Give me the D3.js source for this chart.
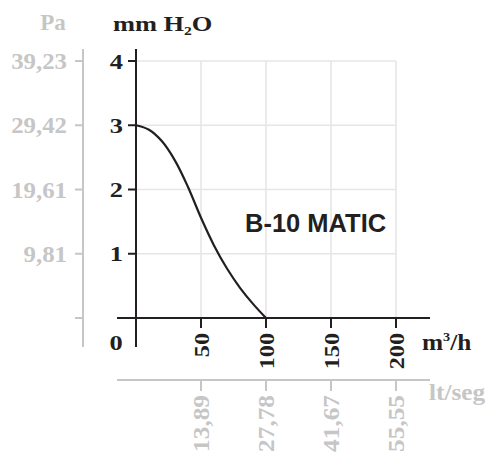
<!DOCTYPE html>
<html><head><meta charset="utf-8">
<script src="https://cdn.jsdelivr.net/npm/d3@7"></script>
<style>body{margin:0;background:#fff}svg{display:block}</style>
</head><body>
<svg id="c" width="489" height="457"></svg>
<script>
const flow = [0,10,20,30,40,50,60,70,80,90,100];
const pressure = [3,2.93,2.75,2.45,2.04,1.56,1.13,0.77,0.47,0.22,0];
const xTicks = [50,100,150,200];
const yTicks = [1,2,3,4];
const paTicks = [0,9.81,19.61,29.42,39.23];
const paLabels = ["","9,81","19,61","29,42","39,23"];
const lsTicks = [13.89,27.78,41.67,55.55];
const lsLabels = ["13,89","27,78","41,67","55,55"];
const modelName = "B-10 MATIC";

const BLACK="#231f20", GRAY="#c6c6c6", GRID="#e6e6e6";
const serif = "'Liberation Serif','Times New Roman',serif";
const svg = d3.select("#c");
const x = d3.scaleLinear().domain([0,200]).range([136,396]);
const y = d3.scaleLinear().domain([0,4]).range([318,61]);
const xl = d3.scaleLinear().domain([0,200/3.6]).range([136,396]);
const yp = d3.scaleLinear().domain([0,39.23]).range([318,61]);

function sText(sel, px, py, opt){
  return sel.attr("transform",(d,i)=>`translate(${px(d,i)},${py(d,i)}) rotate(${opt.rot||0}) scale(${opt.sx||1},1)`)
    .attr("fill",opt.fill||BLACK).attr("font-family",opt.family||serif).attr("font-weight","bold")
    .attr("font-size",opt.size||22).attr("text-anchor",opt.anchor||"start").attr("dy",opt.dy||null);
}

// grid
const g = svg.append("g");
g.selectAll(".h").data(yTicks).join("line").attr("x1",x(0)).attr("x2",x(200))
  .attr("y1",d=>y(d)).attr("y2",d=>y(d)).attr("stroke",GRID).attr("stroke-width",1.6);
g.selectAll(".v").data(xTicks).join("line").attr("x1",d=>x(d)).attr("x2",d=>x(d))
  .attr("y1",y(4)).attr("y2",y(0)).attr("stroke",GRID).attr("stroke-width",1.6);

// Pa axis (gray)
const pa = svg.append("g");
pa.append("line").attr("x1",83).attr("x2",83).attr("y1",49).attr("y2",347).attr("stroke",GRAY).attr("stroke-width",2);
pa.selectAll("line.t").data(paTicks).join("line").attr("class","t").attr("x1",75).attr("x2",83)
  .attr("y1",d=>yp(d)).attr("y2",d=>yp(d)).attr("stroke",GRAY).attr("stroke-width",2);
sText(pa.selectAll("text").data(paTicks).join("text").text((d,i)=>paLabels[i]),
  ()=>67, d=>yp(d), {fill:GRAY,size:23,sx:1.08,anchor:"end",dy:"0.35em"});
sText(svg.append("text").datum(0).text("Pa"), ()=>53, ()=>30, {fill:GRAY,size:23,anchor:"middle"});

// mm H2O title
const t = sText(svg.append("text").datum(0), ()=>113, ()=>31, {size:22,sx:1.2});
t.append("tspan").text("mm H");
t.append("tspan").attr("font-size",13).attr("dy",4).text("2");
t.append("tspan").attr("dy",-4).text("O");

// main axes
svg.append("line").attr("x1",x(0)).attr("x2",x(0)).attr("y1",49).attr("y2",347).attr("stroke",BLACK).attr("stroke-width",2);
svg.append("line").attr("x1",117).attr("x2",430).attr("y1",y(0)).attr("y2",y(0)).attr("stroke",BLACK).attr("stroke-width",2);
svg.selectAll(".yt").data(yTicks).join("line").attr("x1",x(0)-8).attr("x2",x(0))
  .attr("y1",d=>y(d)).attr("y2",d=>y(d)).attr("stroke",BLACK).attr("stroke-width",2);
sText(svg.selectAll(".ytl").data(yTicks).join("text").text(d=>d),
  ()=>123, d=>y(d), {size:22,sx:1.2,anchor:"end",dy:"0.35em"});
svg.selectAll(".xt").data(xTicks).join("line").attr("x1",d=>x(d)).attr("x2",d=>x(d))
  .attr("y1",y(0)).attr("y2",y(0)+10).attr("stroke",BLACK).attr("stroke-width",2);
sText(svg.selectAll(".xtl").data(xTicks).join("text").text(d=>d),
  d=>x(d), ()=>333, {size:22,sx:1.1,rot:-90,anchor:"end",dy:"0.35em"});
sText(svg.append("text").datum(0).text("0"), ()=>116, ()=>350, {size:22,sx:1.2,anchor:"middle"});
const u = sText(svg.append("text").datum(0), ()=>422, ()=>350, {size:23,sx:1.1});
u.append("tspan").text("m");
u.append("tspan").attr("font-size",13).attr("dy",-9).text("3");
u.append("tspan").attr("dy",9).text("/h");

// lt/seg axis
svg.append("line").attr("x1",117).attr("x2",430).attr("y1",380).attr("y2",380).attr("stroke",GRAY).attr("stroke-width",2);
svg.selectAll(".lt").data(lsTicks).join("line").attr("x1",d=>xl(d)).attr("x2",d=>xl(d))
  .attr("y1",380).attr("y2",391).attr("stroke",GRAY).attr("stroke-width",2);
sText(svg.selectAll(".ltl").data(lsTicks).join("text").text((d,i)=>lsLabels[i]),
  d=>xl(d), ()=>395, {fill:GRAY,size:23,sx:1.1,rot:-90,anchor:"end",dy:"0.35em"});
sText(svg.append("text").datum(0).text("lt/seg"), ()=>429, ()=>400, {fill:GRAY,size:23,sx:1.1});

// curve
const line = d3.line().x(d=>x(d[0])).y(d=>y(d[1])).curve(d3.curveCatmullRom);
svg.append("path").datum(flow.map((f,i)=>[f,pressure[i]])).attr("d",line)
  .attr("fill","none").attr("stroke",BLACK).attr("stroke-width",2.2);

svg.append("text").attr("x",245).attr("y",232).attr("fill",BLACK)
  .attr("font-family","'Liberation Sans',Arial,sans-serif").attr("font-weight","bold")
  .attr("font-size",25.5).text(modelName);
</script>
</body></html>
